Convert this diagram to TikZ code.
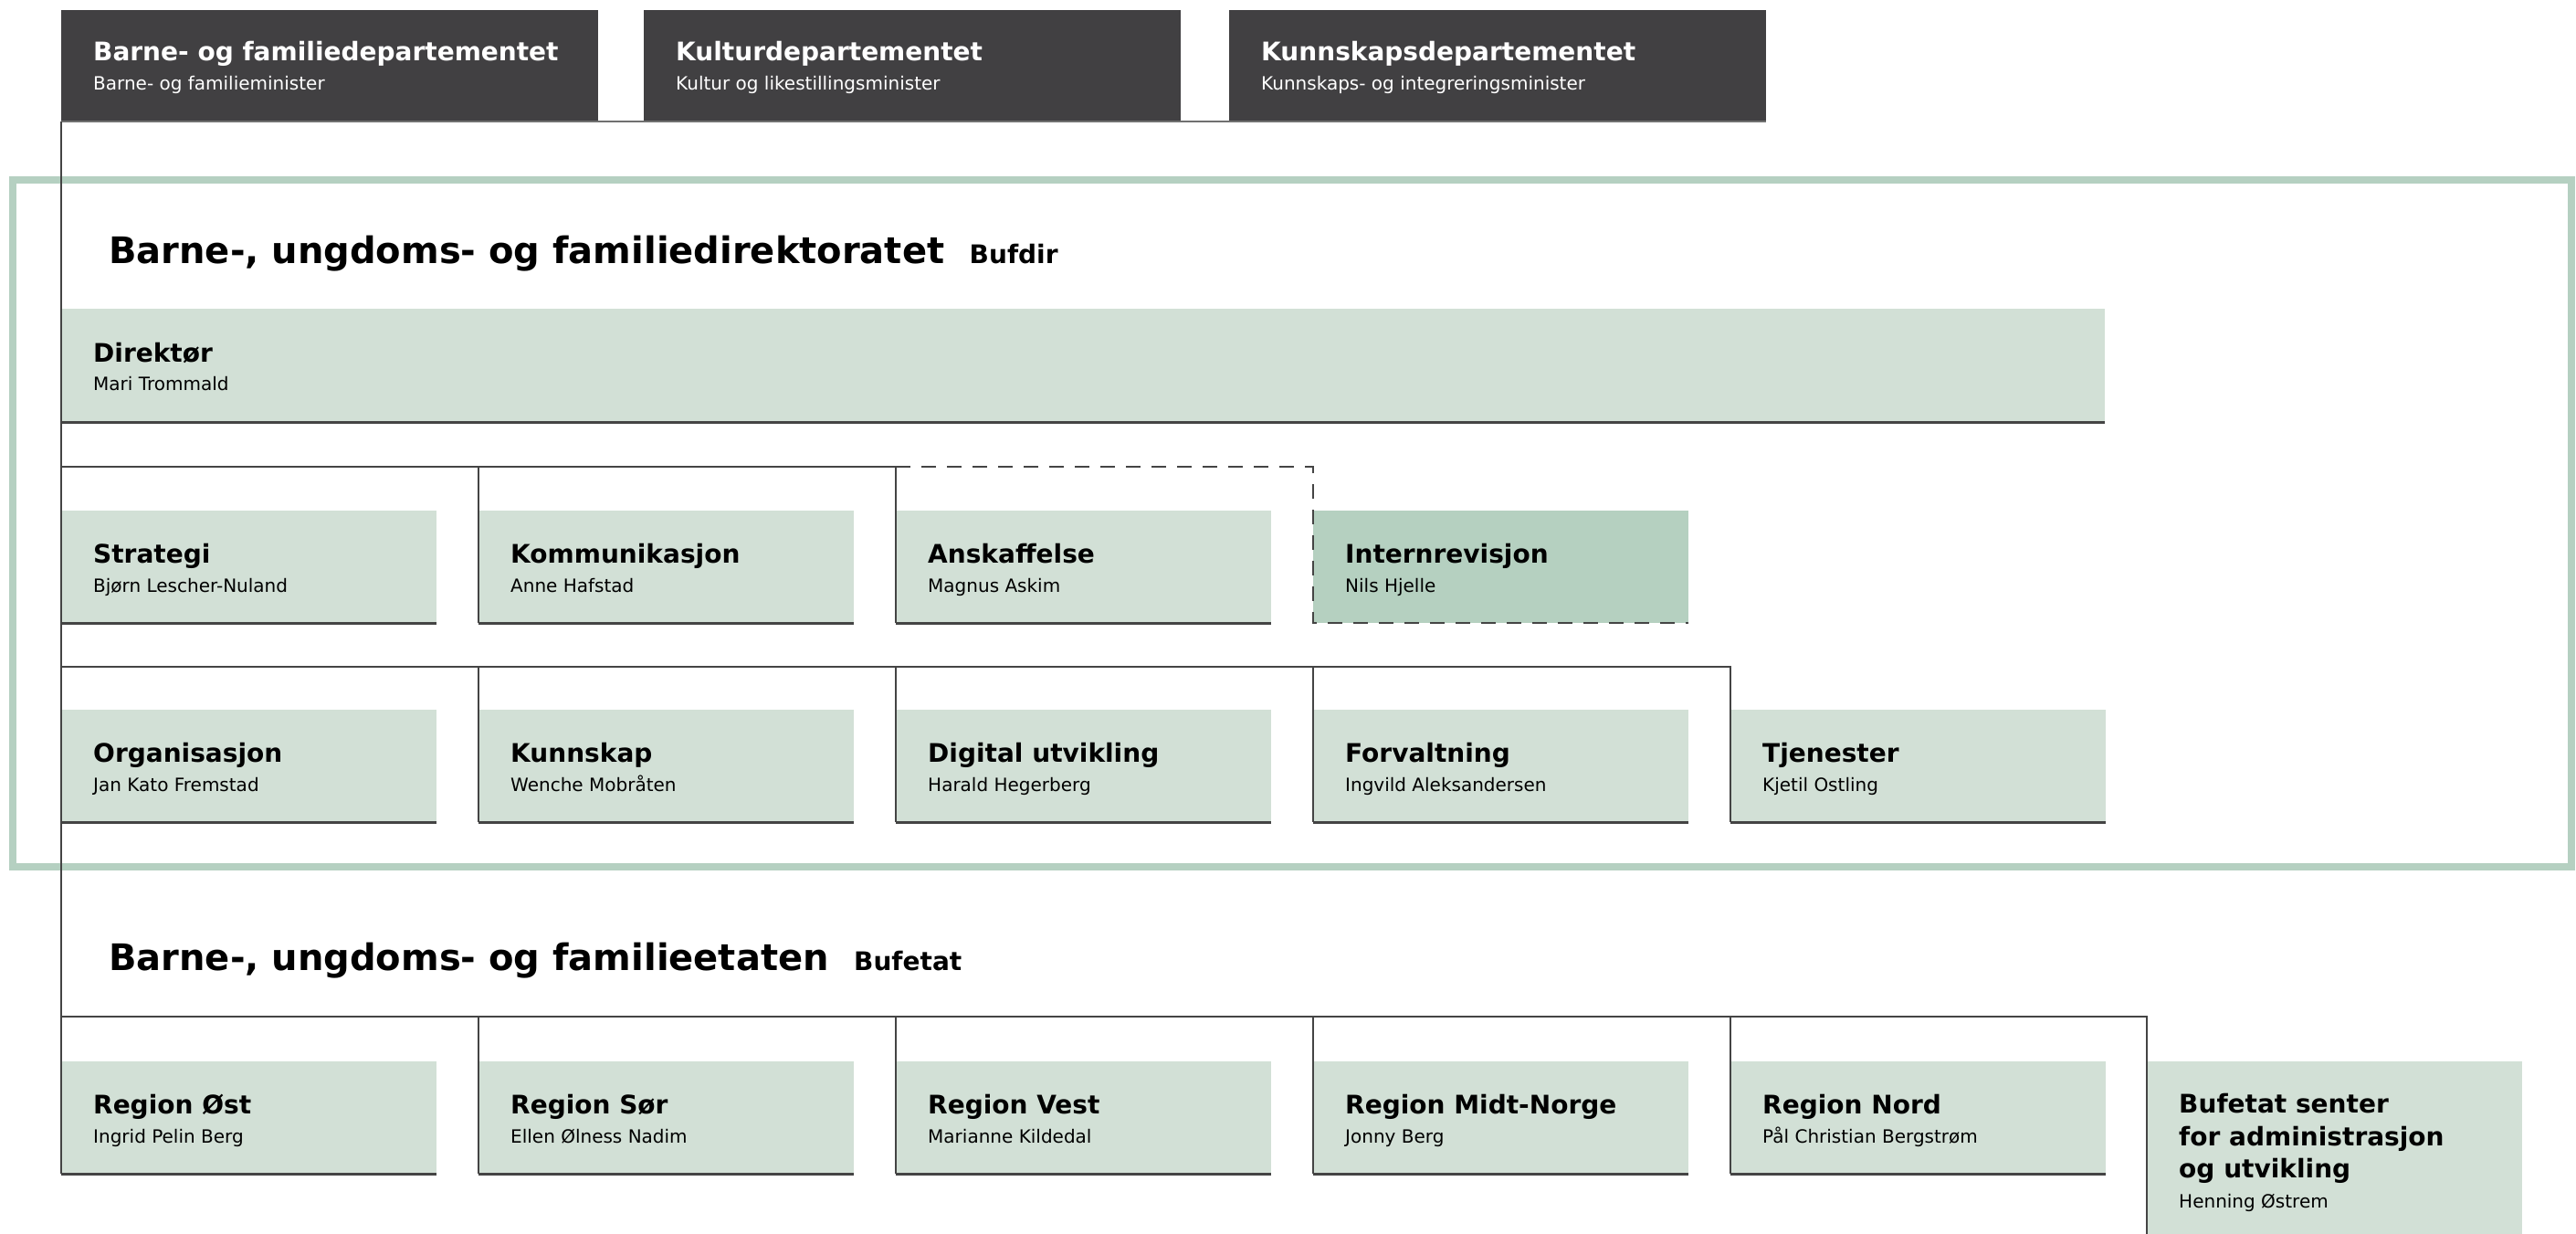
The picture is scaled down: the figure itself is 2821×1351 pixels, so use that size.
\documentclass[tikz,border=0pt]{standalone}
\usepackage{fontspec}
\setmainfont{DejaVu Sans}
\definecolor{dark}{HTML}{414042}
\definecolor{boxg}{HTML}{D2E0D6}
\definecolor{boxd}{HTML}{B5D0C0}
\definecolor{linec}{HTML}{444444}
\definecolor{frameg}{HTML}{B5D0C1}
\definecolor{mlinec}{HTML}{707070}
\newcommand\orgunit[6]{%
  \node[boxn, fill=#4] (#1) at (#2,#3) {};
  \node[ttl] (#1-t) at ([xshift=35pt,yshift=-57pt]#1.north west) {#5};
  \node[sub] (#1-s) at ([xshift=35pt,yshift=-89pt]#1.north west) {#6};
}
\newcommand\ministry[5]{%
  \node[minbox] (#1) at (#2,#3) {};
  \node[ttl, text=white] (#1-t) at ([xshift=35pt,yshift=-56pt]#1.north west) {#4};
  \node[sub, text=white] (#1-s) at ([xshift=35pt,yshift=-88pt]#1.north west) {#5};
}
\begin{document}
\begin{tikzpicture}[x=1pt,y=-1pt,
  boxn/.style={anchor=north west, inner sep=0pt, outer sep=0pt, minimum width=411pt, minimum height=123pt},
  minbox/.style={anchor=north west, inner sep=0pt, outer sep=0pt, minimum width=588pt, minimum height=122pt, fill=dark},
  ttl/.style={anchor=base west, inner sep=0pt, font=\bfseries\fontsize{28}{36}\selectfont},
  sub/.style={anchor=base west, inner sep=0pt, font=\fontsize{20}{24}\selectfont},
  head/.style={anchor=base west, inner sep=0pt, font=\bfseries\fontsize{40}{48}\selectfont},
  subhead/.style={anchor=base west, inner sep=0pt, font=\bfseries\fontsize{28}{34}\selectfont},
  bus/.style={draw=linec, line width=2.5pt},
  vline/.style={draw=linec, line width=2pt},
  bline/.style={draw=linec, line width=3pt},
  dline/.style={draw=linec, line width=2.5pt, dash pattern=on 16pt off 12pt},
  mline/.style={draw=mlinec, line width=2pt},
]
\useasboundingbox[fill=white] (0,0) rectangle (2821,1351);

% ministries
\ministry{m1}{67}{11}{Barne- og familiedepartementet}{Barne- og familieminister}
\ministry{m2}{705}{11}{Kulturdepartementet}{Kultur og likestillingsminister}
\ministry{m3}{1346}{11}{Kunnskapsdepartementet}{Kunnskaps- og integreringsminister}
\draw[mline] (m1.south west) -- (m3.south east);

% Bufdir frame
\node[draw=frameg, line width=8pt, anchor=north west, inner sep=0pt, outer sep=0pt,
      minimum width=2802pt, minimum height=752pt] (bufdirframe) at (14,197) {};
\node[head] (h1) at (119,288) {Barne-, ungdoms- og familiedirektoratet};
\node[subhead] (h1b) at ([xshift=27pt]h1.base east) {Bufdir};

% Direktor
\node[boxn, fill=boxg, minimum width=2238pt, minimum height=124pt] (dir) at (67,338) {};
\node[ttl] (dir-t) at ([xshift=35pt,yshift=-58pt]dir.north west) {Direktør};
\node[sub] (dir-s) at ([xshift=35pt,yshift=-89pt]dir.north west) {Mari Trommald};

% row 1
\orgunit{str}{67}{559}{boxg}{Strategi}{Bjørn Lescher-Nuland}
\orgunit{kom}{524}{559}{boxg}{Kommunikasjon}{Anne Hafstad}
\orgunit{ans}{981}{559}{boxg}{Anskaffelse}{Magnus Askim}
\orgunit{int}{1438}{559}{boxd}{Internrevisjon}{Nils Hjelle}

% row 2
\orgunit{org}{67}{777}{boxg}{Organisasjon}{Jan Kato Fremstad}
\orgunit{kun}{524}{777}{boxg}{Kunnskap}{Wenche Mobråten}
\orgunit{dig}{981}{777}{boxg}{Digital utvikling}{Harald Hegerberg}
\orgunit{for}{1438}{777}{boxg}{Forvaltning}{Ingvild Aleksandersen}
\orgunit{tje}{1895}{777}{boxg}{Tjenester}{Kjetil Ostling}

% Bufetat
\node[head] (h2) at (119,1062) {Barne-, ungdoms- og familieetaten};
\node[subhead] (h2b) at ([xshift=27pt]h2.base east) {Bufetat};

\orgunit{ro}{67}{1162}{boxg}{Region Øst}{Ingrid Pelin Berg}
\orgunit{rs}{524}{1162}{boxg}{Region Sør}{Ellen Ølness Nadim}
\orgunit{rv}{981}{1162}{boxg}{Region Vest}{Marianne Kildedal}
\orgunit{rm}{1438}{1162}{boxg}{Region Midt-Norge}{Jonny Berg}
\orgunit{rn}{1895}{1162}{boxg}{Region Nord}{Pål Christian Bergstrøm}
\node[boxn, fill=boxg, minimum height=189pt] (sen) at (2351,1162) {};
\node[ttl] (sen-t1) at ([xshift=35pt,yshift=-56pt]sen.north west) {Bufetat senter};
\node[ttl] (sen-t2) at ([xshift=35pt,yshift=-92pt]sen.north west) {for administrasjon};
\node[ttl] (sen-t3) at ([xshift=35pt,yshift=-127pt]sen.north west) {og utvikling};
\node[sub] (sen-s) at ([xshift=35pt,yshift=-160pt]sen.north west) {Henning Østrem};

% bus coordinates
\coordinate (bus1) at (67,511);
\coordinate (bus2) at (67,730);
\coordinate (bus3) at (67,1113);

% main vertical
\draw[vline] (m1.south west) -- (ro.south west);
\draw[bline] (dir.south west) -- (dir.south east);

% row 1 connectors
\draw[bus] (bus1) -- (bus1 -| ans.north west);
\draw[dline] (bus1 -| ans.north west) -| (int.south west) -- (int.south east);
\foreach \b in {kom,ans} \draw[vline] (bus1 -| \b.north west) -- (\b.south west);
\foreach \b in {str,kom,ans} \draw[bline] (\b.south west) -- (\b.south east);

% row 2 connectors
\draw[bus] (bus2) -| (tje.south west);
\foreach \b in {kun,dig,for} \draw[vline] (bus2 -| \b.north west) -- (\b.south west);
\foreach \b in {org,kun,dig,for,tje} \draw[bline] (\b.south west) -- (\b.south east);

% Bufetat connectors
\draw[bus] (bus3) -| (sen.south west);
\foreach \b in {rs,rv,rm,rn} \draw[vline] (bus3 -| \b.north west) -- (\b.south west);
\foreach \b in {ro,rs,rv,rm,rn} \draw[bline] (\b.south west) -- (\b.south east);
\end{tikzpicture}
\end{document}
